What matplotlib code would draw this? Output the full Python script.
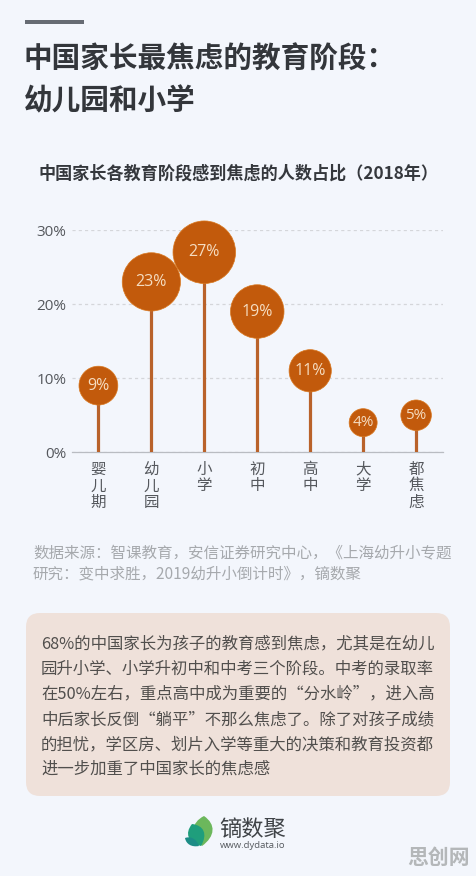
import numpy as np
import matplotlib
matplotlib.use("Agg")
import matplotlib.pyplot as plt
from matplotlib.patches import FancyBboxPatch, PathPatch, Rectangle
from matplotlib.path import Path

plt.rcParams['font.family'] = ['Noto Sans CJK SC', 'DejaVu Sans']

categories = ['婴\n儿\n期', '幼\n儿\n园', '小\n学', '初\n中', '高\n中', '大\n学', '都\n焦\n虑']
values = [9, 23, 27, 19, 11, 4, 5]
y_ticks = [0, 10, 20, 30]
title_lines = ['中国家长最焦虑的教育阶段\uff1a', '幼儿园和小学']
subtitle = '中国家长各教育阶段感到焦虑的人数占比\uff082018年\uff09'
source_lines = ['数据来源\uff1a智课教育\uff0c安信证券研究中心\uff0c《上海幼升小专题',
                '研究\uff1a变中求胜\uff0c2019幼升小倒计时》\uff0c镝数聚']
body_lines = ['68%的中国家长为孩子的教育感到焦虑\uff0c尤其是在幼儿',
              '园升小学、小学升初中和中考三个阶段。中考的录取率',
              '在50%左右\uff0c重点高中成为重要的\u201c分水岭\u201d\uff0c进入高',
              '中后家长反倒\u201c躺平\u201d不那么焦虑了。除了对孩子成绩',
              '的担忧\uff0c学区房、划片入学等重大的决策和教育投资都',
              '进一步加重了中国家长的焦虑感']

W, H = 476, 876
BG = '#F3F6FC'
ORANGE = '#C25A0C'
STEM = '#B9622A'
fig = plt.figure(figsize=(W / 100, H / 100), dpi=100, facecolor=BG)

# overlay in pixel coordinates for page furniture
pg = fig.add_axes([0, 0, 1, 1], zorder=0)
pg.set_xlim(0, W); pg.set_ylim(H, 0); pg.axis('off')
pg.add_patch(Rectangle((25, 19.5), 59, 4.5, color='#666B73', lw=0))
pg.text(24, 59, title_lines[0], fontsize=20.6, fontweight='bold', color='#33363B', va='center', ha='left')
pg.text(24, 100, title_lines[1], fontsize=20.6, fontweight='bold', color='#33363B', va='center', ha='left')
pg.text(38.5, 174, subtitle, fontsize=12.3, fontweight='bold', color='#35383D', va='center', ha='left')
for i, s in enumerate(source_lines):
    pg.text(33, 553 + i * 21, s, fontsize=11.2, color='#A6A9AD', va='center', ha='left')
pg.add_patch(FancyBboxPatch((26 + 14, 613 + 14), 424 - 28, 183 - 28,
                            boxstyle='round,pad=14,rounding_size=14', fc='#EFE1DA', ec='none'))
for i, s in enumerate(body_lines):
    pg.text(41, 644 + i * 25.1, s, fontsize=11.8, color='#514F4D', va='center', ha='left')

# logo
def leaf(x0, y0, x1, y1, bulge, color):
    dx, dy = x1 - x0, y1 - y0
    nx, ny = -dy, dx
    v = [(x0, y0), (x0 + dx * .35 + nx * bulge, y0 + dy * .35 + ny * bulge),
         (x0 + dx * .75 + nx * bulge, y0 + dy * .75 + ny * bulge), (x1, y1),
         (x0 + dx * .75 - nx * bulge, y0 + dy * .75 - ny * bulge),
         (x0 + dx * .35 - nx * bulge, y0 + dy * .35 - ny * bulge), (x0, y0)]
    c = [Path.MOVETO] + [Path.CURVE4] * 6
    pg.add_patch(PathPatch(Path(v, c), fc=color, ec='none'))
leaf(202, 846, 204, 816, .42, '#6CB75C')
leaf(201, 846, 192, 824, .45, '#1F9E7C')
leaf(199, 846, 185, 838, .30, '#1C8C86')
pg.text(219, 830, '镝数聚', fontsize=16, color='#3F4347', va='center', ha='left')
pg.text(219.5, 846, 'www.dydata.io', fontsize=6.8, color='#55595E', va='center', ha='left',
        family=['Open Sans', 'DejaVu Sans'])
pg.text(470, 857, '思创网', fontsize=15, fontweight='bold', color='#B4B7B9', va='center', ha='right')

# chart: x from 72 to 443, baseline at y=452.3, 30% at y=230
left, right, y0, y30 = 72, 443, 452.3, 230
ax = fig.add_axes([left / W, 1 - y0 / H, (right - left) / W, (y0 - y30) / H], zorder=2)
ax.patch.set_alpha(0)
x = np.arange(len(values))
ax.set_xlim((left - 98.4) / 52.95, (right - 98.4) / 52.95)
ax.set_ylim(0, 30)
for s in ax.spines.values():
    s.set_visible(False)
ax.spines['bottom'].set_visible(True)
ax.spines['bottom'].set_color('#B9BCC2')
ax.spines['bottom'].set_linewidth(0.9)
ax.set_yticks(y_ticks)
ax.set_yticklabels([f'{t}%' for t in y_ticks], fontsize=11, color='#55585D',
                   family=['Open Sans', 'DejaVu Sans'])
ax.yaxis.grid(True, color='#D4D6DA', lw=0.9, ls=(0, (2.5, 2.5)))
ax.set_axisbelow(True)
ax.tick_params(axis='both', length=0)
ax.tick_params(axis='y', pad=4)
ax.tick_params(axis='x', pad=6)
ax.set_xticks(x)
ax.set_xticklabels(categories, fontsize=11.2, color='#55585D', linespacing=0.98, va='top')

vals = np.array(values, dtype=float)
radius_px = 3.18 + 5.41 * np.sqrt(vals)
sizes = (2 * radius_px * 72 / 100) ** 2
ax.vlines(x, 0, vals, color=STEM, lw=2.3, zorder=3)
ax.scatter(x, vals, s=sizes, color=ORANGE, edgecolors='#D9781F', linewidths=0.5, zorder=4, clip_on=False)
for xi, v in zip(x, values):
    ax.text(xi, v, f'{v}%', color='#F5DCC0', ha='center', va='center', zorder=5,
            fontsize=11.5 if v >= 9 else 11, family=['Open Sans', 'DejaVu Sans'], clip_on=False)

fig.savefig('out.png', dpi=100, facecolor=BG)
